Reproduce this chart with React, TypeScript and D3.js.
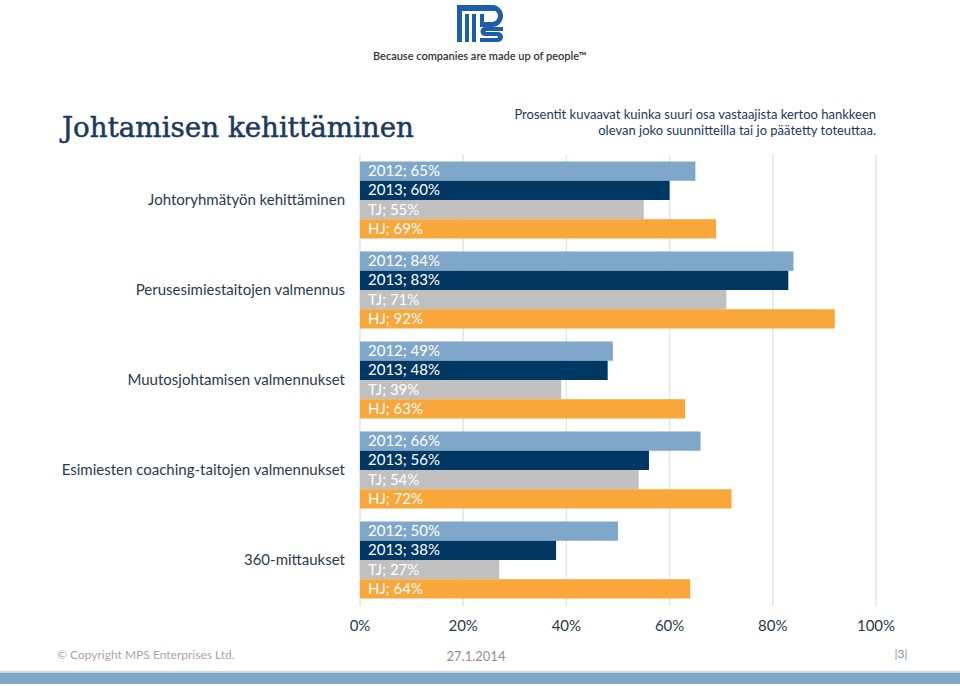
import React from "react";
import * as d3 from "d3";

const categories = [
  "Johtoryhmätyön kehittäminen",
  "Perusesimiestaitojen valmennus",
  "Muutosjohtamisen valmennukset",
  "Esimiesten coaching-taitojen valmennukset",
  "360-mittaukset",
];
const seriesNames = ["2012", "2013", "TJ", "HJ"];
const values2012 = [65, 84, 49, 66, 50];
const values2013 = [60, 83, 48, 56, 38];
const valuesTJ = [55, 71, 39, 54, 27];
const valuesHJ = [69, 92, 63, 72, 64];
const seriesColors = ["#7fa7ca", "#003763", "#c0c0c0", "#f9a73a"];
const ticks = [0, 20, 40, 60, 80, 100];

const allSeries = [values2012, values2013, valuesTJ, valuesHJ];

export default function App() {
  const W = 960, H = 686;
  const x = d3.scaleLinear().domain([0, 100]).range([360, 876]);
  const y = d3.scaleBand<string>().domain(categories).range([155, 605]).paddingInner(13 / 90).paddingOuter(6.5 / 90);
  const inner = d3.scaleBand<string>().domain(seriesNames).range([0, y.bandwidth()]);
  const navy = "#1b3a5e";
  const labelFont = "Lato, 'Open Sans', sans-serif";

  return (
    <svg width={W} height={H} style={{ position: "absolute", left: 0, top: 0, background: "#fff" }}>
      {/* logo */}
      <g fill="#1d5ea8">
        <rect x={457} y={5} width={38} height={6} />
        <rect x={457} y={11} width={5} height={31} />
        <rect x={465} y={14} width={4} height={28} />
        <rect x={472} y={14} width={4} height={28} />
        <path d="M492 5 a11 11 0 0 1 0 22 h-12 v-5 h12 a6 6 0 0 0 0 -12 h-3 v-5 z" />
        <rect x={480} y={14} width={4} height={10} />
        <path d="M503 27 h-18 a4.5 4.5 0 0 0 0 9 h12 a1 1 0 0 1 0 2 h-17 v4 h18 a5 5 0 0 0 0 -10 h-12 a0.5 0.5 0 0 1 0 -1 h17 z" />
      </g>
      <text x={480} y={60} textAnchor="middle" fontFamily={labelFont} fontSize={11} fontWeight={600} fill="#333">
        Because companies are made up of people™
      </text>

      {/* title */}
      <text x={62} y={137} fontFamily="'DejaVu Serif', serif" fontSize={27} fill={navy} stroke={navy} strokeWidth={0.5}
        textLength={352} lengthAdjust="spacingAndGlyphs">
        Johtamisen kehittäminen
      </text>
      <text textAnchor="end" fontFamily={labelFont} fontSize={13} fill={navy}>
        <tspan x={876} y={119}>Prosentit kuvaavat kuinka suuri osa vastaajista kertoo hankkeen</tspan>
        <tspan x={876} y={135}>olevan joko suunnitteilla tai jo päätetty toteuttaa.</tspan>
      </text>

      {/* gridlines */}
      {ticks.map((t) => (
        <line key={t} x1={x(t)} x2={x(t)} y1={155} y2={606} stroke="#dfe6ee" strokeWidth={1.5} />
      ))}

      {/* bars */}
      {categories.map((c, ci) => (
        <g key={c}>
          <text x={345} y={(y(c) ?? 0) + y.bandwidth() / 2 + 5} textAnchor="end" fontFamily={labelFont} fontSize={15} fill="#2b3a4f">
            {c}
          </text>
          {seriesNames.map((s, si) => {
            const v = allSeries[si][ci];
            const by = (y(c) ?? 0) + (inner(s) ?? 0);
            return (
              <g key={s}>
                <rect x={x(0)} y={by} width={x(v) - x(0)} height={inner.bandwidth()} fill={seriesColors[si]} />
                <text x={x(0) + 8} y={by + inner.bandwidth() / 2 + 5} fontFamily={labelFont} fontSize={15}
                  fill="#fff">
                  {`${s}; ${v}%`}
                </text>
              </g>
            );
          })}
        </g>
      ))}

      {/* axis labels */}
      {ticks.map((t) => (
        <text key={t} x={x(t)} y={631} textAnchor="middle" fontFamily={labelFont} fontSize={15} fill="#2a3a4a">
          {`${t}%`}
        </text>
      ))}

      {/* footer */}
      <text x={57} y={659} fontFamily={labelFont} fontSize={12} fill="#a8a8a8">© Copyright MPS Enterprises Ltd.</text>
      <text x={476} y={661} textAnchor="middle" fontFamily={labelFont} fontSize={13} fill="#909090">27.1.2014</text>
      <text x={901} y={658} textAnchor="middle" fontFamily={labelFont} fontSize={12} fill="#909090">|3|</text>
      <rect x={0} y={671} width={W} height={2} fill="#c5d7e8" />
      <rect x={0} y={673} width={W} height={11} fill="#7fa7ca" />
    </svg>
  );
}
